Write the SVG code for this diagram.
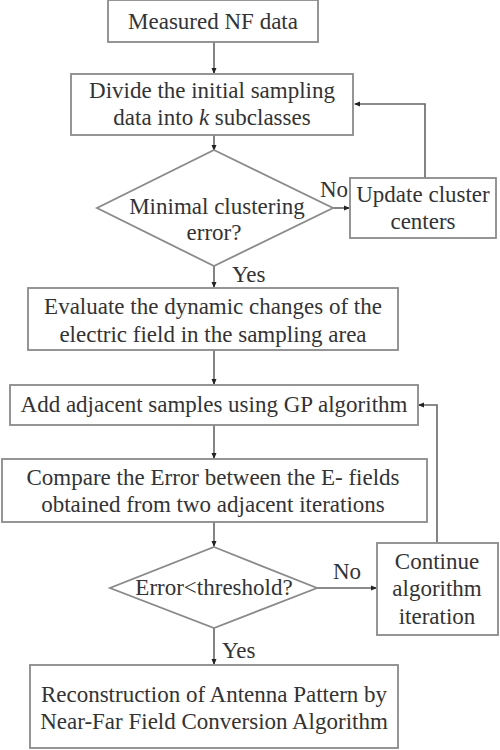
<svg xmlns="http://www.w3.org/2000/svg" width="500" height="750" viewBox="0 0 500 750">
<defs>
<marker id="ah" markerWidth="6" markerHeight="6" refX="5" refY="3" orient="auto" markerUnits="userSpaceOnUse">
<path d="M0,0.5 L6,3 L0,5.5 Z" fill="#222"/>
</marker>
</defs>
<style>
.box{fill:#fff;stroke:#8a8a8a;stroke-width:1.8}
.t{font-size:23px;fill:#333;text-anchor:middle}
.l{font-size:23px;fill:#333}
.c{fill:none;stroke:#666;stroke-width:1.6;marker-end:url(#ah)}
</style>
<rect width="500" height="750" fill="#fff"/>
<g id="connectors">
<path class="c" d="M214,42 V73"/>
<path class="c" d="M214,135 V150"/>
<path class="c" d="M333,208 H349"/>
<path class="c" d="M425,178 V104 H355"/>
<path class="c" d="M214,266 V287"/>
<path class="c" d="M214,350 V384"/>
<path class="c" d="M214,425 V458"/>
<path class="c" d="M214,522 V546"/>
<path class="c" d="M317,588 H376"/>
<path class="c" d="M437,542 V405 H419"/>
<path class="c" d="M214,628 V664"/>
<text class="l" font-family="Liberation Serif" x="320" y="197">No</text>
<text class="l" font-family="Liberation Serif" x="232" y="282">Yes</text>
<text class="l" font-family="Liberation Serif" x="333" y="579">No</text>
<text class="l" font-family="Liberation Serif" x="222" y="658">Yes</text>
</g>
<g id="n1"><rect class="box" x="108" y="0" width="210" height="42"/><text class="t" font-family="Liberation Serif" x="213" y="29">Measured NF data</text></g>
<g id="n2"><rect class="box" x="71" y="74" width="282" height="61"/><text class="t" font-family="Liberation Serif" x="212" y="98">Divide the initial sampling</text><text class="t" font-family="Liberation Serif" x="212" y="125">data into <tspan font-style="italic">k</tspan> subclasses</text></g>
<g id="n3"><polygon class="box" points="214,150 333,208 214,266 97,208"/><text class="t" font-family="Liberation Serif" x="217" y="214">Minimal clustering</text><text class="t" font-family="Liberation Serif" x="214" y="240">error?</text></g>
<g id="n4"><rect class="box" x="350" y="178" width="146" height="60"/><text class="t" font-family="Liberation Serif" x="423" y="202">Update cluster</text><text class="t" font-family="Liberation Serif" x="423" y="229">centers</text></g>
<g id="n5"><rect class="box" x="28" y="288" width="370" height="62"/><text class="t" font-family="Liberation Serif" x="213" y="314">Evaluate the dynamic changes of the</text><text class="t" font-family="Liberation Serif" x="213" y="342">electric field in the sampling area</text></g>
<g id="n6"><rect class="box" x="10" y="385" width="408" height="40"/><text class="t" font-family="Liberation Serif" x="214" y="412">Add adjacent samples using GP algorithm</text></g>
<g id="n7"><rect class="box" x="2" y="459" width="425" height="63"/><text class="t" font-family="Liberation Serif" x="213" y="485">Compare the Error between the E- fields</text><text class="t" font-family="Liberation Serif" x="213" y="512">obtained from two adjacent iterations</text></g>
<g id="n8"><polygon class="box" points="214,547 317,588 214,628 110,588"/><text class="t" font-family="Liberation Serif" x="214" y="595">Error&lt;threshold?</text></g>
<g id="n9"><rect class="box" x="377" y="543" width="121" height="92"/><text class="t" font-family="Liberation Serif" x="437" y="569">Continue</text><text class="t" font-family="Liberation Serif" x="437" y="596">algorithm</text><text class="t" font-family="Liberation Serif" x="437" y="624">iteration</text></g>
<g id="n10"><rect class="box" x="30" y="665" width="368" height="83"/><text class="t" font-family="Liberation Serif" x="214" y="702">Reconstruction of Antenna Pattern by</text><text class="t" font-family="Liberation Serif" x="214" y="729">Near-Far Field Conversion Algorithm</text></g>
</svg>
